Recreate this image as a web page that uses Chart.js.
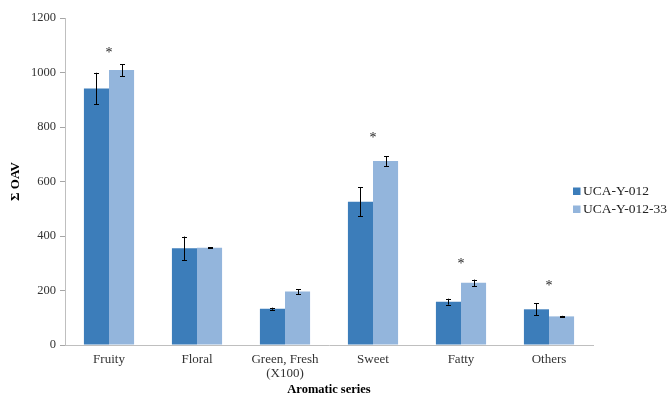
<!DOCTYPE html>
<html>
<head>
<meta charset="utf-8">
<script src="https://cdn.jsdelivr.net/npm/chart.js@4.4.0/dist/chart.umd.min.js"></script>
<style>
html, body { margin: 0; padding: 0; background: #fff; }
#wrap { width: 670px; height: 395px; }
</style>
</head>
<body>
<div id="wrap"><canvas id="chart"></canvas></div>
<script>
// data
const categories = ['Fruity', 'Floral', ['Green, Fresh', '(X100)'], 'Sweet', 'Fatty', 'Others'];
const seriesNames = ['UCA-Y-012', 'UCA-Y-012-33'];
const strainA = [941, 355, 133, 526, 159, 131];
const strainAErr = [58, 43, 4, 53, 11, 22];
const strainB = [1009, 357, 196, 675, 228, 105];
const strainBErr = [22, 2, 9, 18, 12, 2];
const starLevel = [1080, null, null, 771, 308, 228]; // '*' marks, in OAV units
const yTicks = [0, 200, 400, 600, 800, 1000, 1200];

const colors = ['#3c7dba', '#93b5dc'];
const serif = '"Liberation Serif", "Times New Roman", serif';

const extras = {
    id: 'extras',
    afterDatasetsDraw(chart) {
        const ctx = chart.ctx;
        const y = chart.scales.y;
        const errs = [strainAErr, strainBErr];
        ctx.save();
        ctx.strokeStyle = '#000';
        ctx.lineWidth = 1;
        chart.data.datasets.forEach((ds, i) => {
            const meta = chart.getDatasetMeta(i);
            meta.data.forEach((bar, j) => {
                const v = ds.data[j], e = errs[i][j];
                const x = Math.round(bar.x) + 0.5;
                const top = y.getPixelForValue(v + e);
                const bot = y.getPixelForValue(v - e);
                ctx.beginPath();
                ctx.moveTo(x, top); ctx.lineTo(x, bot);
                ctx.moveTo(x - 2.5, Math.round(top) + 0.5); ctx.lineTo(x + 2.5, Math.round(top) + 0.5);
                ctx.moveTo(x - 2.5, Math.round(bot) + 0.5); ctx.lineTo(x + 2.5, Math.round(bot) + 0.5);
                ctx.stroke();
            });
        });

        // significance asterisks
        ctx.fillStyle = '#222';
        ctx.font = '14px ' + serif;
        ctx.textAlign = 'center';
        ctx.textBaseline = 'middle';
        starLevel.forEach((s, j) => {
            if (s === null) return;
            const x = chart.scales.x.getPixelForValue(j);
            ctx.fillText('*', x, y.getPixelForValue(s) + 3);
        });

        // legend at the right
        ctx.font = '13.5px ' + serif;
        ctx.textAlign = 'left';
        seriesNames.forEach((name, i) => {
            const ly = 191 + i * 18;
            ctx.fillStyle = colors[i];
            ctx.fillRect(573, ly - 3.5, 7.5, 7.5);
            ctx.fillStyle = '#222';
            ctx.fillText(name, 583, ly);
        });
        ctx.restore();
    }
};

new Chart(document.getElementById('chart'), {
    type: 'bar',
    data: {
        labels: categories,
        datasets: [
            { label: seriesNames[0], data: strainA, backgroundColor: colors[0] },
            { label: seriesNames[1], data: strainB, backgroundColor: colors[1] }
        ]
    },
    options: {
        responsive: true,
        maintainAspectRatio: false,
        animation: false,
        layout: { padding: { left: 0, right: 77, top: 18, bottom: 0 } },
        datasets: { bar: { barPercentage: 1.0, categoryPercentage: 0.57 } },
        plugins: { legend: { display: false }, tooltip: { enabled: false } },
        scales: {
            x: {
                grid: { display: false, drawTicks: false },
                border: { color: '#bfbfbf' },
                ticks: { color: '#333', font: { family: serif, size: 13, lineHeight: 1.05 }, padding: 8 },
                title: { display: true, text: 'Aromatic series', color: '#000',
                         font: { family: serif, size: 12.5, weight: 'bold' }, padding: { top: 0, bottom: -2 } },
                afterFit(s) { s.height = 50; }
            },
            y: {
                min: 0, max: 1200,
                afterBuildTicks(s) { s.ticks = yTicks.map(v => ({ value: v })); },
                grid: { display: true, drawOnChartArea: false, drawTicks: true, tickLength: 5, color: '#a6a6a6' },
                border: { color: '#bfbfbf' },
                ticks: { color: '#333', font: { family: serif, size: 12.5 }, padding: 4,
                         callback: v => String(v) },
                title: { display: true, text: 'Σ OAV', color: '#000',
                         font: { family: serif, size: 13, weight: 'bold' }, padding: { top: 8, bottom: 0 } },
                afterFit(s) { s.width = 65; }
            }
        }
    },
    plugins: [extras]
});
</script>
</body>
</html>
